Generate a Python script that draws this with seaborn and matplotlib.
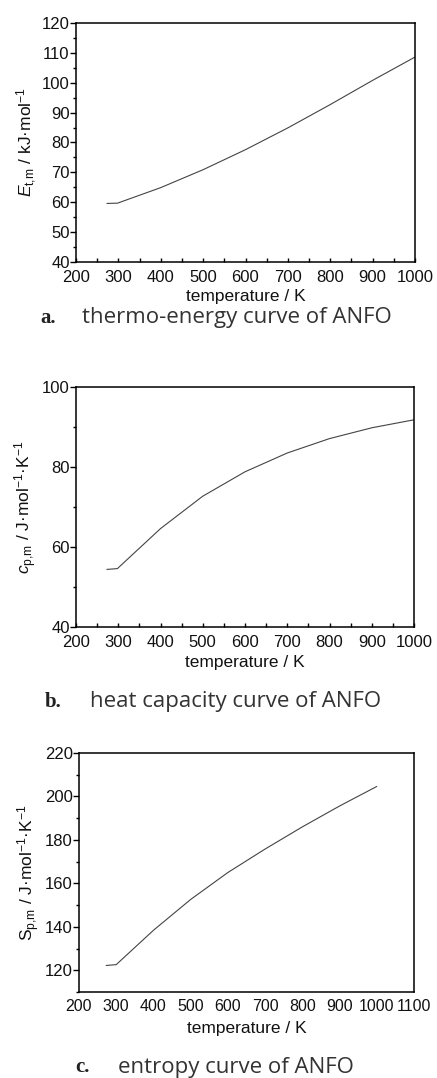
import matplotlib
matplotlib.use('Agg')
import matplotlib.pyplot as plt
import seaborn as sns
from matplotlib.ticker import MultipleLocator

# values
temp_a = [273, 298, 400, 500, 600, 700, 800, 900, 1000]
energy = [59.6, 59.7, 64.9, 70.9, 77.6, 84.9, 92.7, 100.8, 108.6]

temp_b = [273, 298, 400, 500, 600, 700, 800, 900, 1000]
heat_cap = [54.4, 54.6, 64.6, 72.7, 78.8, 83.5, 87.1, 89.8, 91.8]

temp_c = [273, 300, 400, 500, 600, 700, 800, 900, 1000]
entropy = [122.2, 122.6, 138.4, 152.6, 165.0, 175.8, 186.0, 195.6, 204.6]

W, H = 437, 1078
TICK_FS = 12
LABEL_FS = 12.5

sns.set_theme(style='white')
plt.rcParams['font.family'] = ['Liberation Sans', 'DejaVu Sans']
plt.rcParams['mathtext.fontset'] = 'custom'
plt.rcParams['mathtext.rm'] = 'Liberation Sans'
plt.rcParams['mathtext.it'] = 'Liberation Sans:italic'

fig = plt.figure(figsize=(W / 100, H / 100), dpi=100)


def add_axes(left, right, top, bottom):
    return fig.add_axes([left / W, 1 - bottom / H, (right - left) / W, (bottom - top) / H])


def style(ax, xlim, ylim, ymajor, yminor, xticks_visible=True, xfs=TICK_FS):
    ax.set_xlim(*xlim)
    ax.set_ylim(*ylim)
    for s in ax.spines.values():
        s.set_color('black')
        s.set_linewidth(1.1)
    ax.xaxis.set_major_locator(MultipleLocator(100))
    ax.yaxis.set_major_locator(MultipleLocator(ymajor))
    ax.yaxis.set_minor_locator(MultipleLocator(yminor))
    ax.tick_params(axis='y', which='major', direction='out', length=4, width=1, color='black',
                   labelsize=TICK_FS, pad=0.5, left=True, labelcolor='#111')
    ax.tick_params(axis='y', which='minor', direction='out', length=2.5, width=1, color='black', left=True)
    if xticks_visible:
        ax.xaxis.set_minor_locator(MultipleLocator(50))
        ax.tick_params(axis='x', which='major', direction='in', length=3, width=1, color='black',
                       labelsize=xfs, pad=6, bottom=True, labelcolor='#111')
        ax.tick_params(axis='x', which='minor', direction='in', length=3, width=1, color='black', bottom=True)
    else:
        ax.tick_params(axis='x', which='major', length=0, labelsize=xfs, pad=5, labelcolor='#111')
    ax.grid(False)


def caption(letter, text, x_letter, x_text, y):
    fig.text(x_letter / W, 1 - y / H, letter, family='Liberation Serif', weight='bold',
             fontsize=15, color='#222', va='center', ha='left')
    fig.text(x_text / W, 1 - y / H, text, family='Open Sans', fontsize=16,
             color='#333', va='center', ha='left')


# a. thermo-energy
ax1 = add_axes(76, 415, 23, 262)
sns.lineplot(x=temp_a, y=energy, ax=ax1, color='#444', linewidth=0.8)
style(ax1, (200, 1000), (40, 120), 10, 5)
ax1.set_xlabel('temperature / K', fontsize=LABEL_FS, labelpad=3, color='#111')
ax1.set_ylabel(r'$E_{\rm t{,}m}$ / kJ·mol$^{-1}$', fontsize=LABEL_FS, labelpad=2, color='#111')
caption('a.', 'thermo-energy curve of ANFO', 40, 82, 318)

# b. heat capacity
ax2 = add_axes(76, 414, 387, 627)
sns.lineplot(x=temp_b, y=heat_cap, ax=ax2, color='#444', linewidth=0.8)
style(ax2, (200, 1000), (40, 100), 20, 10)
ax2.set_xlabel('temperature / K', fontsize=LABEL_FS, labelpad=3, color='#111')
ax2.set_ylabel(r'$c_{\rm p{,}m}$ / J·mol$^{-1}$·K$^{-1}$', fontsize=LABEL_FS, labelpad=2, color='#111')
caption('b.', 'heat capacity curve of ANFO', 45, 90, 702)

# c. entropy
ax3 = add_axes(79, 414, 753, 992)
sns.lineplot(x=temp_c, y=entropy, ax=ax3, color='#444', linewidth=0.8)
style(ax3, (200, 1100), (110, 220), 20, 10, xticks_visible=False, xfs=11.5)
ax3.set_xlabel('temperature / K', fontsize=LABEL_FS, labelpad=5, color='#111')
ax3.set_ylabel(r'S$_{\rm p{,}m}$ / J·mol$^{-1}$·K$^{-1}$', fontsize=LABEL_FS, labelpad=2, color='#111')
caption('c.', 'entropy curve of ANFO', 75, 118, 1067)

fig.savefig('out.png', dpi=100, facecolor='white')
